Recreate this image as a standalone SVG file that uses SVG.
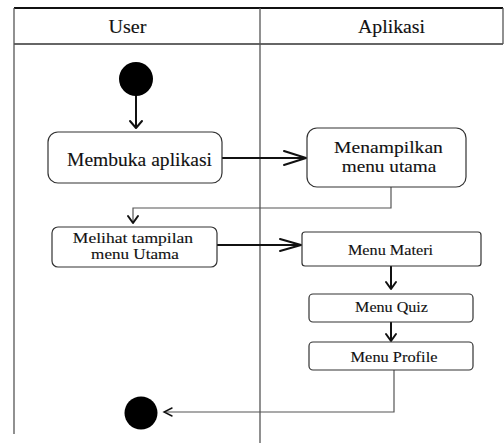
<svg xmlns="http://www.w3.org/2000/svg" width="504" height="443" viewBox="0 0 504 443">
  <style>
    .lane { fill: none; stroke: #555; stroke-width: 1.3; }
    .head { fill: none; stroke: #111; stroke-width: 1.8; }
    .box { fill: #fff; stroke: #333; stroke-width: 1.2; }
    .txt { font-family: "Liberation Serif", "Times New Roman", serif; fill: #111; stroke: #111; stroke-width: 0.12; text-anchor: middle; }
    .flow { fill: none; stroke: #111; stroke-width: 2; }
    .thin { fill: none; stroke: #555; stroke-width: 1.2; }
    .ah { fill: none; stroke: #111; stroke-width: 2; stroke-linecap: round; stroke-linejoin: round; }
  </style>

  <!-- swimlanes -->
  <g id="lanes">
    <rect x="0" y="0" width="504" height="443" fill="#fff"/>
    <line x1="14" y1="8" x2="503" y2="8" class="head"/>
    <line x1="14" y1="44" x2="503" y2="44" stroke="#666" stroke-width="2"/>
    <line x1="14" y1="8" x2="14" y2="434" class="lane"/>
    <line x1="260" y1="8" x2="260" y2="443" class="lane"/>
    <line x1="503" y1="8" x2="503" y2="44" class="lane"/>
    <text transform="translate(127.5,33) scale(1.12,1)" class="txt" font-size="18">User</text>
    <text transform="translate(391.5,33) scale(1.1,1)" class="txt" font-size="18">Aplikasi</text>
  </g>

  <!-- connectors -->
  <g id="connectors">
    <line x1="136" y1="94" x2="136" y2="128" class="flow"/>
    <path d="M130 121 L136 128 L142 121" class="ah"/>

    <line x1="222" y1="158" x2="306" y2="158" class="flow"/>
    <path d="M284 151 L306 158 L284 165" class="ah"/>

    <path d="M391 187 V208 H133 V222" class="thin"/>
    <path d="M128 216 L133 223 L138 216" class="ah"/>

    <line x1="217" y1="245" x2="301" y2="245" class="flow"/>
    <path d="M280 239 L301 245 L280 251" class="ah"/>

    <line x1="391" y1="266" x2="391" y2="288" class="flow"/>
    <path d="M386 282 L391 289 L396 282" class="ah"/>

    <line x1="391" y1="322" x2="391" y2="340" class="flow"/>
    <path d="M386 334 L391 341 L396 334" class="ah"/>

    <path d="M394 370 V412 H164" class="thin"/>
    <path d="M172 408 L164 412 L172 416" fill="none" stroke="#111" stroke-width="1.4" stroke-linecap="round"/>
  </g>

  <g id="start">
    <circle cx="136" cy="79" r="17" fill="#000"/>
  </g>

  <g id="membuka">
    <rect x="48" y="132" width="174" height="51" rx="10" class="box"/>
    <text transform="translate(139.5,166) scale(1.03,1)" class="txt" font-size="19">Membuka aplikasi</text>
  </g>

  <g id="menampilkan">
    <rect x="307" y="128" width="159" height="59" rx="10" class="box"/>
    <text transform="translate(388.5,153) scale(1.12,1)" class="txt" font-size="17.5">Menampilkan</text>
    <text transform="translate(389,172) scale(1.1,1)" class="txt" font-size="17.5">menu utama</text>
  </g>

  <g id="melihat">
    <rect x="52" y="227" width="165" height="40" rx="6" class="box"/>
    <text transform="translate(133,242.5) scale(1.17,1)" class="txt" font-size="15">Melihat tampilan</text>
    <text transform="translate(135,259) scale(1.14,1)" class="txt" font-size="15">menu Utama</text>
  </g>

  <g id="materi">
    <rect x="302" y="232" width="179" height="34" rx="3" class="box"/>
    <text transform="translate(390.5,255) scale(1.12,1)" class="txt" font-size="14.5">Menu Materi</text>
  </g>

  <g id="quiz">
    <rect x="309" y="294" width="164" height="28" rx="4" class="box"/>
    <text transform="translate(391.5,312) scale(1.11,1)" class="txt" font-size="14.5">Menu Quiz</text>
  </g>

  <g id="profile">
    <rect x="309" y="342" width="164" height="28" rx="4" class="box"/>
    <text transform="translate(394,362) scale(1.13,1)" class="txt" font-size="14.5">Menu Profile</text>
  </g>

  <g id="end">
    <circle cx="141" cy="413" r="16.5" fill="#000"/>
  </g>
</svg>
